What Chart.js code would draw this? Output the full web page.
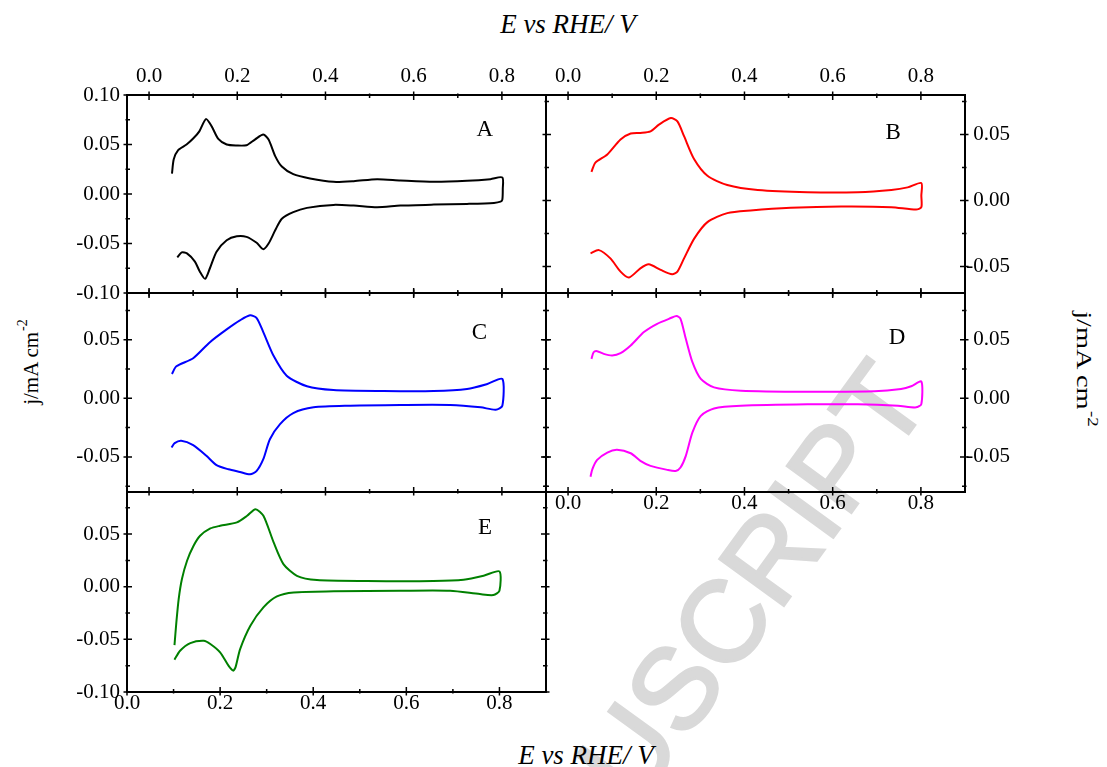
<!DOCTYPE html>
<html>
<head>
<meta charset="utf-8">
<script src="https://cdn.jsdelivr.net/npm/chart.js@4.4.0/dist/chart.umd.min.js"></script>
<style>
  html, body { margin: 0; padding: 0; background: #fff; }
  #page { position: relative; width: 1107px; height: 767px; overflow: hidden; background: #fff; }
  #page canvas { position: absolute; left: 0; top: 0; }
  .lbl { position: absolute; font-family: "Liberation Serif", serif; color: #000; white-space: nowrap; line-height: 1; }
  .xt { font-size: 27px; font-style: italic; transform: translateX(-50%); }
  .sup { font-size: 14px; position: relative; top: -11px; margin-left: 1px; }
  #wm { position: absolute; left: -607px; top: 315px; width: 1500px; height: 115px; line-height: 115px;
        text-align: right; font: 115px "Liberation Sans", sans-serif; color: #d9d9d9; white-space: nowrap;
        -webkit-text-stroke: 3px #d9d9d9;
        transform-origin: 100% 50%; transform: rotate(-54deg); }
</style>
</head>
<body>
<div id="page">
  <div id="wm">ACCEPTED MANUSCRIPT</div>
  <div class="lbl xt" style="left:568px; top:11px;">E vs RHE/ V</div>
  <div class="lbl xt" style="left:586px; top:742px;">E vs RHE/ V</div>
  <div class="lbl" style="left:31px; top:362px; font-size:21px; transform:translate(-50%,-50%) rotate(-90deg);">j/mA cm<span class="sup">-2</span></div>
  <div class="lbl" style="left:1083px; top:369px; font-size:21px; transform:translate(-50%,-50%) rotate(90deg) scaleX(1.35);">j/mA cm<span class="sup">-2</span></div>
</div>
<script>
// tick values (E in V, j in mA cm-2)
const xTicks = [0, 0.1, 0.2, 0.3, 0.4, 0.5, 0.6, 0.7, 0.8];
const yTicksA = [-0.1, -0.075, -0.05, -0.025, 0, 0.025, 0.05, 0.075, 0.1];
const yTicksB = [-0.05, -0.025, 0, 0.025, 0.05, 0.075];
const yTicksCD = [-0.075, -0.05, -0.025, 0, 0.025, 0.05, 0.075];
const yTicksE = [-0.1, -0.075, -0.05, -0.025, 0, 0.025, 0.05, 0.075];

// panel A
const aE = [0.052, 0.056, 0.066, 0.085, 0.100, 0.114, 0.129, 0.142, 0.157, 0.176, 0.199, 0.221, 0.240, 0.259, 0.271, 0.286, 0.301, 0.327, 0.365, 0.418, 0.464, 0.517, 0.570, 0.646, 0.721, 0.774, 0.801, 0.802,
            0.801, 0.797, 0.782, 0.721, 0.646, 0.570, 0.517, 0.464, 0.418, 0.358, 0.327, 0.301, 0.286, 0.271, 0.259, 0.244, 0.221, 0.199, 0.176, 0.153, 0.138, 0.127, 0.115, 0.104, 0.086, 0.074, 0.064];
const aJ = [0.0207, 0.035, 0.0443, 0.05, 0.056, 0.0633, 0.0757, 0.0683, 0.0557, 0.05, 0.049, 0.0493, 0.055, 0.06, 0.055, 0.0383, 0.0277, 0.02, 0.0157, 0.0123, 0.013, 0.015, 0.0137, 0.0123, 0.0133, 0.015, 0.0167, 0.005,
            -0.0057, -0.0077, -0.009, -0.01, -0.0107, -0.0117, -0.0133, -0.0117, -0.011, -0.014, -0.0183, -0.025, -0.0367, -0.05, -0.0557, -0.0493, -0.0433, -0.0427, -0.0467, -0.0583, -0.075, -0.0857, -0.0783, -0.0683, -0.06, -0.059, -0.064];

// panel B
const bE = [0.053, 0.062, 0.089, 0.119, 0.142, 0.164, 0.187, 0.206, 0.233, 0.248, 0.263, 0.286, 0.316, 0.361, 0.430, 0.543, 0.657, 0.733, 0.770, 0.801, 0.801, 0.801,
            0.789, 0.733, 0.619, 0.505, 0.414, 0.361, 0.316, 0.286, 0.263, 0.248, 0.236, 0.210, 0.183, 0.164, 0.138, 0.119, 0.096, 0.070, 0.051];
const bJ = [0.0218, 0.0288, 0.035, 0.0463, 0.0508, 0.0513, 0.0525, 0.0575, 0.0625, 0.06, 0.0488, 0.0313, 0.0188, 0.0118, 0.008, 0.0063, 0.0063, 0.008, 0.01, 0.0133, 0.0038, -0.005,
            -0.0068, -0.005, -0.0045, -0.0055, -0.0075, -0.0095, -0.0163, -0.0288, -0.0438, -0.0538, -0.0558, -0.0525, -0.0483, -0.0513, -0.0583, -0.0538, -0.0438, -0.0375, -0.04];

// panel C
const cE = [0.052, 0.062, 0.100, 0.138, 0.176, 0.206, 0.229, 0.244, 0.259, 0.282, 0.312, 0.358, 0.418, 0.532, 0.645, 0.721, 0.767, 0.801, 0.801,
            0.786, 0.752, 0.683, 0.570, 0.456, 0.373, 0.327, 0.297, 0.274, 0.259, 0.244, 0.229, 0.206, 0.180, 0.153, 0.130, 0.100, 0.073, 0.058, 0.051];
const cJ = [0.0209, 0.0274, 0.0343, 0.048, 0.0589, 0.0666, 0.0709, 0.0686, 0.0566, 0.0366, 0.0194, 0.0103, 0.0071, 0.0063, 0.0063, 0.008, 0.0123, 0.0166, -0.0063,
            -0.0097, -0.0077, -0.0057, -0.0057, -0.0063, -0.0077, -0.0126, -0.022, -0.0349, -0.052, -0.062, -0.0649, -0.0629, -0.0606, -0.0571, -0.0491, -0.04, -0.0363, -0.0383, -0.042];

// panel D
const dE = [0.053, 0.058, 0.066, 0.081, 0.100, 0.119, 0.142, 0.172, 0.202, 0.233, 0.246, 0.255, 0.267, 0.282, 0.301, 0.331, 0.392, 0.543, 0.695, 0.755, 0.778, 0.801, 0.801,
            0.789, 0.748, 0.657, 0.543, 0.392, 0.331, 0.301, 0.282, 0.267, 0.255, 0.244, 0.225, 0.187, 0.164, 0.142, 0.111, 0.089, 0.066, 0.055, 0.051];
const dJ = [0.0337, 0.0394, 0.0403, 0.038, 0.0366, 0.0386, 0.0451, 0.0566, 0.0637, 0.0686, 0.0703, 0.068, 0.0509, 0.0309, 0.0166, 0.0094, 0.0066, 0.0057, 0.006, 0.008, 0.0103, 0.0143, -0.0049,
            -0.0077, -0.0063, -0.0051, -0.0051, -0.0063, -0.0086, -0.0149, -0.0291, -0.0491, -0.0591, -0.062, -0.0611, -0.0577, -0.0534, -0.0469, -0.044, -0.0463, -0.0526, -0.0606, -0.0669];

// panel E
const eE = [0.102, 0.106, 0.111, 0.118, 0.129, 0.143, 0.157, 0.179, 0.200, 0.236, 0.258, 0.276, 0.293, 0.315, 0.336, 0.365, 0.408, 0.515, 0.658, 0.723, 0.766, 0.800, 0.800,
            0.787, 0.758, 0.694, 0.587, 0.444, 0.358, 0.322, 0.293, 0.265, 0.243, 0.233, 0.228, 0.218, 0.200, 0.179, 0.165, 0.136, 0.114, 0.102];
const eJ = [-0.0554, -0.0339, -0.0117, 0.0073, 0.0247, 0.0389, 0.0484, 0.0554, 0.0579, 0.0611, 0.0674, 0.0737, 0.0674, 0.0421, 0.0215, 0.0104, 0.0063, 0.0054, 0.0054, 0.0066, 0.0104, 0.0146, -0.0038,
            -0.0079, -0.007, -0.0038, -0.0038, -0.0044, -0.0054, -0.0092, -0.0196, -0.037, -0.0592, -0.0766, -0.0797, -0.075, -0.0623, -0.0544, -0.0513, -0.0535, -0.0608, -0.0693];

const W = 1107, H = 767;
const X_MAJOR = 0.2, Y_MAJOR = 0.05;

const panels = [
  { tag: 'A', E: aE, J: aJ, color: '#000000', rect: [127, 95, 546, 293], xRange: [-0.05, 0.9], yRange: [-0.1, 0.1], yTicks: yTicksA,
    xLabels: 'top', yLabels: 'left', sides: ['x2', 'y', 'x'], tagAt: [0.761, 0.065] },
  { tag: 'B', E: bE, J: bJ, color: '#ff0000', rect: [546, 95, 965, 293], xRange: [-0.05, 0.9], yRange: [-0.07, 0.08], yTicks: yTicksB,
    xLabels: 'top', yLabels: 'right', sides: ['x2', 'y', 'y2', 'x'], tagAt: [0.737, 0.051] },
  { tag: 'C', E: cE, J: cJ, color: '#0000ff', rect: [127, 293, 546, 492], xRange: [-0.05, 0.9], yRange: [-0.08, 0.09], yTicks: yTicksCD,
    xLabels: null, yLabels: 'left', sides: ['x2', 'y', 'y2', 'x'], tagAt: [0.749, 0.056] },
  { tag: 'D', E: dE, J: dJ, color: '#ff00ff', rect: [546, 293, 965, 492], xRange: [-0.05, 0.9], yRange: [-0.08, 0.09], yTicks: yTicksCD,
    xLabels: 'bottom', yLabels: 'right', sides: ['x2', 'y', 'y2', 'x'], tagAt: [0.746, 0.0515] },
  { tag: 'E', E: eE, J: eJ, color: '#008000', rect: [127, 492, 546, 692], xRange: [0, 0.9], yRange: [-0.1, 0.09], yTicks: yTicksE,
    xLabels: 'bottom', yLabels: 'left', sides: ['y', 'y2', 'x'], tagAt: [0.769, 0.0558] }
];

// room kept for each axis label band (labels are clipped to it)
const BAND = { left: 60, right: 45, top: 40, bottom: 30 };

function isMajor(v, step) {
  const q = v / step;
  return Math.abs(q - Math.round(q)) < 1e-6;
}

// short tick marks crossing the frame, major and minor
const tickMarks = {
  id: 'tickMarks',
  afterDraw(chart, args, opts) {
    const { ctx, chartArea: a } = chart;
    ctx.save();
    ctx.strokeStyle = '#000';
    ctx.lineWidth = 1.5;
    ctx.beginPath();
    opts.sides.forEach(id => {
      const s = chart.scales[id];
      const horiz = s.isHorizontal();
      s.ticks.forEach(t => {
        const big = isMajor(t.value, horiz ? X_MAJOR : Y_MAJOR);
        const out = big ? 3.5 : 1.5, inn = big ? 5 : 3;
        const p = s.getPixelForValue(t.value);
        if (s.position === 'top') { ctx.moveTo(p, a.top - out); ctx.lineTo(p, a.top + inn); }
        if (s.position === 'bottom') { ctx.moveTo(p, a.bottom + out); ctx.lineTo(p, a.bottom - inn); }
        if (s.position === 'left') { ctx.moveTo(a.left - out, p); ctx.lineTo(a.left + inn, p); }
        if (s.position === 'right') { ctx.moveTo(a.right + out, p); ctx.lineTo(a.right - inn, p); }
      });
    });
    ctx.stroke();
    ctx.restore();
  }
};

const panelTag = {
  id: 'panelTag',
  afterDraw(chart, args, opts) {
    const ctx = chart.ctx;
    const x = chart.scales.x.getPixelForValue(opts.at[0]);
    const y = chart.scales.y.getPixelForValue(opts.at[1]);
    ctx.save();
    ctx.font = '23px "Liberation Serif"';
    ctx.fillStyle = '#000';
    ctx.textAlign = 'center';
    ctx.textBaseline = 'middle';
    ctx.fillText(opts.text, x, y);
    ctx.restore();
  }
};

const page = document.getElementById('page');

panels.forEach(p => {
  const canvas = document.createElement('canvas');
  canvas.width = W; canvas.height = H;
  canvas.style.width = W + 'px'; canvas.style.height = H + 'px';
  page.appendChild(canvas);

  const [l, t, r, b] = p.rect;
  const show = {
    top: p.xLabels === 'top', bottom: p.xLabels === 'bottom',
    left: p.yLabels === 'left', right: p.yLabels === 'right'
  };
  const band = pos => show[pos] ? BAND[pos] : 0;

  const axis = (position, horiz) => ({
    type: 'linear',
    axis: horiz ? 'x' : 'y',
    position,
    min: horiz ? p.xRange[0] : p.yRange[0],
    max: horiz ? p.xRange[1] : p.yRange[1],
    afterBuildTicks: s => { s.ticks = (horiz ? xTicks : p.yTicks).map(v => ({ value: v })); },
    afterFit: s => {
      if (horiz) s.height = band(position);
      else s.width = band(position);
    },
    grid: { drawOnChartArea: false, drawTicks: false },
    border: { color: '#000', width: 2 },
    ticks: {
      display: show[position],
      autoSkip: false,
      maxRotation: 0,
      minRotation: 0,
      padding: position === 'top' ? 8 : position === 'bottom' ? 1 : 7,
      crossAlign: position === 'right' ? 'far' : 'near',
      color: '#000',
      font: { family: 'Liberation Serif', size: 21, lineHeight: 1 },
      callback: v => isMajor(v, horiz ? X_MAJOR : Y_MAJOR) ? v.toFixed(horiz ? 1 : 2) : ''
    }
  });

  new Chart(canvas, {
    type: 'scatter',
    data: {
      datasets: [{
        data: p.E.map((e, k) => ({ x: e, y: p.J[k] })),
        showLine: true,
        borderColor: p.color,
        borderWidth: 2,
        pointRadius: 0,
        tension: 0.25,
        fill: false
      }]
    },
    options: {
      responsive: false,
      animation: false,
      devicePixelRatio: 1,
      events: [],
      layout: {
        padding: {
          left: l - band('left'),
          top: t - band('top'),
          right: W - r - band('right'),
          bottom: H - b - band('bottom')
        }
      },
      plugins: {
        legend: { display: false },
        tooltip: { enabled: false },
        tickMarks: { sides: p.sides },
        panelTag: { text: p.tag, at: p.tagAt }
      },
      scales: {
        x: axis('bottom', true),
        x2: axis('top', true),
        y: axis('left', false),
        y2: axis('right', false)
      }
    },
    plugins: [tickMarks, panelTag]
  });
});
</script>
</body>
</html>
